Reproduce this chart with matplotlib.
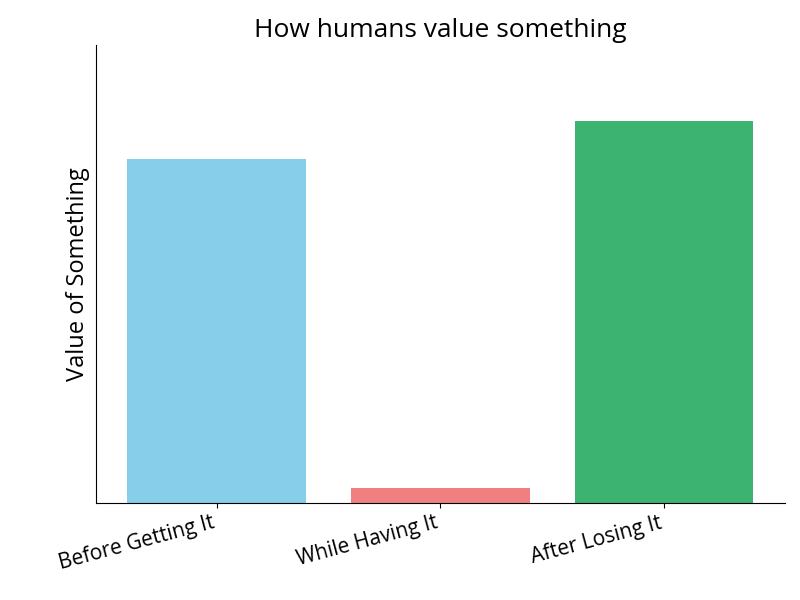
import matplotlib
matplotlib.use("Agg")
import matplotlib.pyplot as plt

categories = ["Before Getting It", "While Having It", "After Losing It"]
values = [90, 4, 100]
colors = ["#87CEEB", "#F08080", "#3CB371"]

plt.rcParams['font.family'] = ['Open Sans', 'DejaVu Sans']
fig = plt.figure(figsize=(8, 6), dpi=100)
ax = fig.add_axes([0.12, 0.162, 0.861, 0.763])
ax.bar(categories, values, color=colors, width=0.8)
ax.set_ylim(0, 120)
ax.set_yticks([])
ax.spines['top'].set_visible(False)
ax.spines['right'].set_visible(False)
ax.set_title("How humans value something", fontsize=19)
ax.set_ylabel("Value of Something", fontsize=17)
plt.setp(ax.get_xticklabels(), rotation=15, ha='right', fontsize=15)
fig.savefig("out.png", dpi=100)
